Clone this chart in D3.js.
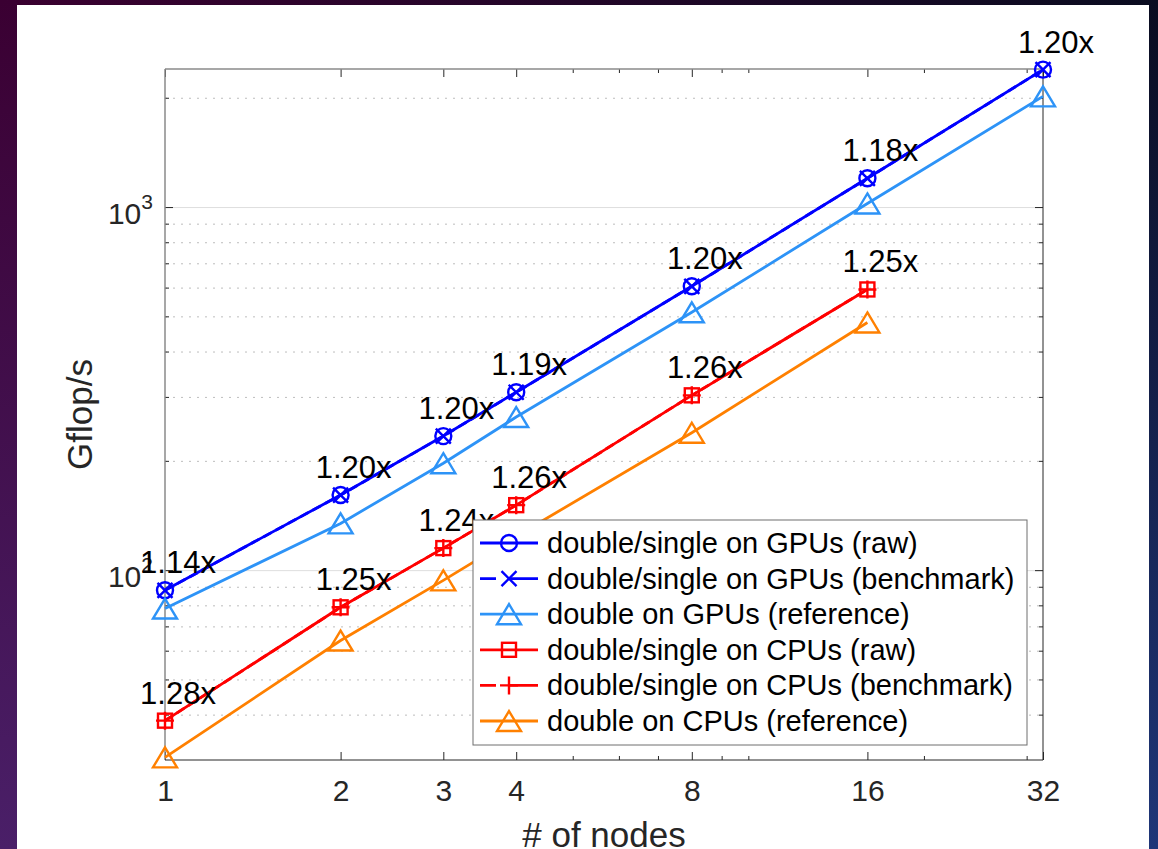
<!DOCTYPE html>
<html>
<head>
<meta charset="utf-8">
<title>Gflop/s vs nodes</title>
<script src="https://cdn.jsdelivr.net/npm/d3@7"></script>
<style>
    html, body { margin: 0; padding: 0; background: #1a0a2a; }
    svg { display: block; }
    text { font-family: "Liberation Sans", Arial, Helvetica, sans-serif; }
</style>
</head>
<body>
<div id="chart"></div>
<script>
// Node counts on the x axis
const gpuNodes = [1, 2, 3, 4, 8, 16, 32];
const cpuNodes = [1, 2, 3, 4, 8, 16];

// Gflop/s
const gpuRaw = [88, 161, 234, 309, 605, 1200, 2390];
const gpuBenchmark = [88, 161, 234, 309, 605, 1200, 2390];
const gpuReference = [78.4, 134.5, 197, 264, 513, 1023, 2018];
const cpuRaw = [38.5, 79, 115, 151, 303, 593];
const cpuBenchmark = [38.5, 79, 115, 151, 303, 593];
const cpuReference = [30.5, 64, 93.7, 124, 239, 481];

// Speedup annotations
const gpuSpeedup = ["1.14x", "1.20x", "1.20x", "1.19x", "1.20x", "1.18x", "1.20x"];
const cpuSpeedup = ["1.28x", "1.25x", "1.24x", "1.26x", "1.26x", "1.25x"];

// Ticks
const xTicks = [1, 2, 3, 4, 8, 16, 32];
const xMinorTicks = [5, 6, 7, 9, 10, 20, 30];
const yTicks = [100, 1000];
const yMinorTicks = [40, 50, 60, 70, 80, 90, 200, 300, 400, 500, 600, 700, 800, 900, 2000];

const seriesNames = [
    "double/single on GPUs (raw)",
    "double/single on GPUs (benchmark)",
    "double on GPUs (reference)",
    "double/single on CPUs (raw)",
    "double/single on CPUs (benchmark)",
    "double on CPUs (reference)"
];

document.addEventListener('DOMContentLoaded', function() {
    const W = 1158, H = 849;
    const box = {left: 165, right: 1043, top: 69, bottom: 760};

    const svg = d3.select("#chart").append("svg")
        .attr("width", W)
        .attr("height", H);

    // slide background: thin gradient strips around a white panel
    const defs = svg.append("defs");
    function grad(id, x2, y2, c1, c2) {
        const g = defs.append("linearGradient").attr("id", id)
            .attr("x1", 0).attr("y1", 0).attr("x2", x2).attr("y2", y2);
        g.append("stop").attr("offset", "0%").attr("stop-color", c1);
        g.append("stop").attr("offset", "100%").attr("stop-color", c2);
    }
    grad("bgTop", 1, 0, "#3a0030", "#0a0c20");
    grad("bgLeft", 0, 1, "#3a0032", "#4a1f68");
    grad("bgRight", 0, 1, "#0a0c20", "#1f3678");

    svg.append("rect").attr("x", 0).attr("y", 0).attr("width", W).attr("height", H).attr("fill", "#140a24");
    svg.append("rect").attr("x", 0).attr("y", 0).attr("width", W).attr("height", 6).attr("fill", "url(#bgTop)");
    svg.append("rect").attr("x", 0).attr("y", 0).attr("width", 17).attr("height", H).attr("fill", "url(#bgLeft)");
    svg.append("rect").attr("x", 1149).attr("y", 0).attr("width", 9).attr("height", H).attr("fill", "url(#bgRight)");
    svg.append("rect").attr("x", 17).attr("y", 5).attr("width", 1132).attr("height", H - 5).attr("fill", "#ffffff");

    // Scales
    const xScale = d3.scaleLog().base(2)
        .domain([1, 32])
        .range([box.left, box.right]);

    const yScale = d3.scaleLog()
        .domain([30, 2400])
        .range([box.bottom, box.top]);

    const plotW = box.right - box.left;

    // Minor grid (dotted)
    svg.append("g")
        .attr("transform", `translate(${box.left},0)`)
        .call(d3.axisLeft(yScale).tickValues(yMinorTicks).tickSize(-plotW).tickFormat(""))
        .call(g => g.select(".domain").remove())
        .selectAll("line")
        .attr("stroke", "#bdbdbd")
        .attr("stroke-width", 1)
        .attr("stroke-dasharray", "2,6");

    // Major grid (solid)
    svg.append("g")
        .attr("transform", `translate(${box.left},0)`)
        .call(d3.axisLeft(yScale).tickValues(yTicks).tickSize(-plotW).tickFormat(""))
        .call(g => g.select(".domain").remove())
        .selectAll("line")
        .attr("stroke", "#dedede")
        .attr("stroke-width", 1);

    // Bottom axis, ticks pointing in
    const xAxis = svg.append("g")
        .attr("transform", `translate(0,${box.bottom})`)
        .call(d3.axisBottom(xScale).tickValues(xTicks).tickSizeInner(-8).tickSizeOuter(0)
            .tickPadding(20).tickFormat(d3.format("d")))
        .call(g => g.select(".domain").remove());
    xAxis.selectAll("line").attr("stroke", "#262626");
    xAxis.selectAll("text")
        .style("font-size", "30px")
        .attr("fill", "#262626");

    svg.append("g")
        .attr("transform", `translate(0,${box.bottom})`)
        .call(d3.axisBottom(xScale).tickValues(xMinorTicks).tickSize(-4).tickFormat(""))
        .call(g => g.select(".domain").remove())
        .selectAll("line").attr("stroke", "#262626");

    // Top axis (box)
    svg.append("g")
        .attr("transform", `translate(0,${box.top})`)
        .call(d3.axisTop(xScale).tickValues(xTicks).tickSize(-8).tickFormat(""))
        .call(g => g.select(".domain").remove())
        .selectAll("line").attr("stroke", "#262626");
    svg.append("g")
        .attr("transform", `translate(0,${box.top})`)
        .call(d3.axisTop(xScale).tickValues(xMinorTicks).tickSize(-4).tickFormat(""))
        .call(g => g.select(".domain").remove())
        .selectAll("line").attr("stroke", "#262626");

    // Left axis with 10^n labels
    const yAxis = svg.append("g")
        .attr("transform", `translate(${box.left},0)`)
        .call(d3.axisLeft(yScale).tickValues(yTicks).tickSize(-8).tickFormat(""))
        .call(g => g.select(".domain").remove());
    yAxis.selectAll("line").attr("stroke", "#262626");
    yAxis.selectAll(".tick text").remove();
    yAxis.selectAll(".tick").each(function(d) {
        const t = d3.select(this).append("text")
            .attr("x", -12)
            .attr("y", 16)
            .attr("text-anchor", "end")
            .attr("fill", "#262626");
        t.append("tspan").style("font-size", "30px").text("10");
        t.append("tspan").style("font-size", "21px").attr("dy", -15).text(Math.round(Math.log10(d)));
    });

    svg.append("g")
        .attr("transform", `translate(${box.left},0)`)
        .call(d3.axisLeft(yScale).tickValues(yMinorTicks).tickSize(-4).tickFormat(""))
        .call(g => g.select(".domain").remove())
        .selectAll("line").attr("stroke", "#262626");

    // Right axis (box)
    svg.append("g")
        .attr("transform", `translate(${box.right},0)`)
        .call(d3.axisRight(yScale).tickValues(yTicks).tickSize(-8).tickFormat(""))
        .call(g => g.select(".domain").remove())
        .selectAll("line").attr("stroke", "#262626");
    svg.append("g")
        .attr("transform", `translate(${box.right},0)`)
        .call(d3.axisRight(yScale).tickValues(yMinorTicks).tickSize(-4).tickFormat(""))
        .call(g => g.select(".domain").remove())
        .selectAll("line").attr("stroke", "#262626");

    // Box lines
    svg.append("line").attr("x1", box.left).attr("x2", box.right).attr("y1", box.top).attr("y2", box.top)
        .attr("stroke", "#8a8a8a").attr("stroke-width", 1.3);
    svg.append("line").attr("x1", box.left).attr("x2", box.left).attr("y1", box.top).attr("y2", box.bottom)
        .attr("stroke", "#8a8a8a").attr("stroke-width", 1.5);
    svg.append("line").attr("x1", box.left).attr("x2", box.right).attr("y1", box.bottom).attr("y2", box.bottom)
        .attr("stroke", "#262626").attr("stroke-width", 1);
    svg.append("line").attr("x1", box.right).attr("x2", box.right).attr("y1", box.top).attr("y2", box.bottom)
        .attr("stroke", "#262626").attr("stroke-width", 1);

    // Axis titles
    svg.append("text")
        .attr("x", (box.left + box.right) / 2)
        .attr("y", 847)
        .attr("text-anchor", "middle")
        .style("font-size", "35px")
        .attr("fill", "#262626")
        .text("# of nodes");

    svg.append("text")
        .attr("transform", `translate(92,${(box.top + box.bottom) / 2}) rotate(-90)`)
        .attr("text-anchor", "middle")
        .style("font-size", "35px")
        .attr("fill", "#262626")
        .text("Gflop/s");

    // Series
    const series = [
        {name: seriesNames[0], x: gpuNodes, y: gpuRaw, color: "#0000ff", marker: "circle", dash: null},
        {name: seriesNames[1], x: gpuNodes, y: gpuBenchmark, color: "#0000ff", marker: "cross", dash: "9,5"},
        {name: seriesNames[2], x: gpuNodes, y: gpuReference, color: "#2d93f7", marker: "triangle", dash: null},
        {name: seriesNames[3], x: cpuNodes, y: cpuRaw, color: "#ff0000", marker: "square", dash: null},
        {name: seriesNames[4], x: cpuNodes, y: cpuBenchmark, color: "#ff0000", marker: "plus", dash: "9,5"},
        {name: seriesNames[5], x: cpuNodes, y: cpuReference, color: "#ff8000", marker: "triangle", dash: null}
    ];

    function drawMarker(g, type, cx, cy, color) {
        const m = g.append("g").attr("transform", `translate(${cx},${cy})`)
            .attr("fill", "none").attr("stroke", color).attr("stroke-width", 2.4);
        if (type === "circle") {
            m.append("circle").attr("r", 8);
        } else if (type === "cross") {
            m.append("path").attr("d", "M-7.5,-7.5L7.5,7.5M-7.5,7.5L7.5,-7.5");
        } else if (type === "triangle") {
            m.append("path").attr("d", "M0,-10L12,10L-12,10Z");
        } else if (type === "square") {
            m.append("rect").attr("x", -7).attr("y", -7).attr("width", 14).attr("height", 14);
        } else if (type === "plus") {
            m.append("path").attr("d", "M-9,0L9,0M0,-9L0,9");
        }
    }

    const line = d3.line()
        .x(d => xScale(d[0]))
        .y(d => yScale(d[1]));

    series.forEach(s => {
        const pts = s.x.map((n, i) => [n, s.y[i]]);
        svg.append("path")
            .datum(pts)
            .attr("d", line)
            .attr("fill", "none")
            .attr("stroke", s.color)
            .attr("stroke-width", 2.8)
            .attr("stroke-dasharray", s.dash);
        const mg = svg.append("g");
        pts.forEach(p => drawMarker(mg, s.marker, xScale(p[0]), yScale(p[1]), s.color));
    });

    // Speedup labels
    function addLabels(xs, ys, labels) {
        svg.append("g").selectAll("text")
            .data(labels)
            .enter()
            .append("text")
            .attr("x", (d, i) => xScale(xs[i]) + 13)
            .attr("y", (d, i) => yScale(ys[i]) - 17)
            .attr("text-anchor", "middle")
            .style("font-size", "31px")
            .attr("fill", "#000")
            .text(d => d);
    }
    addLabels(gpuNodes, gpuRaw, gpuSpeedup);
    addLabels(cpuNodes, cpuRaw, cpuSpeedup);

    // Legend
    const legend = svg.append("g").attr("transform", "translate(473,520)");
    legend.append("rect")
        .attr("width", 554)
        .attr("height", 225)
        .attr("fill", "#fff")
        .attr("stroke", "#6e6e6e")
        .attr("stroke-width", 1);

    series.forEach((s, i) => {
        const cy = 23 + i * 35.6;
        legend.append("line")
            .attr("x1", 7).attr("x2", 65)
            .attr("y1", cy).attr("y2", cy)
            .attr("stroke", s.color)
            .attr("stroke-width", 2.8)
            .attr("stroke-dasharray", s.dash ? "16,12,30" : null);
        drawMarker(legend, s.marker, 36, cy, s.color);
        legend.append("text")
            .attr("x", 74)
            .attr("y", cy + 10)
            .style("font-size", "29px")
            .attr("fill", "#000")
            .text(s.name);
    });
});
</script>
</body>
</html>
